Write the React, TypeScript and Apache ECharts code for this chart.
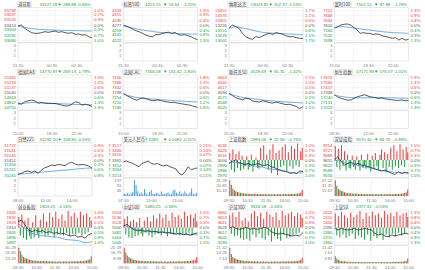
import { useEffect, useRef } from "react";
import * as echarts from "echarts";

const RED = "#ee3b3b";
const GREEN = "#1a9a3c";
const BLUE = "#4b9be0";
const LINE = "#2e2e2e";
const GRIDC = "#ececec";
const BORDER = "#d0d0d0";
const MUTED = "#808080";
const MIDC = "#555555";

// ---------- titles ----------
const names = ["道琼斯", "标普500", "纳斯达克", "富时100", "德国DAX", "法国CAC", "斯托克50", "恒生指数", "日经225", "美元人民币", "上证指数", "深证成指", "创业板指", "中证500", "沪深300", "上证50"];
const lastPrices = ["33127.28", "4223.15", "13023.81", "7502.12", "14770.87", "7166.58", "4528.69", "17171.93", "31292.20", "7.3283", "2983.06", "9570.30", "1903.25", "5480.25", "3616.58", "2377.32"];
const changes = ["288.88", "53.64", "202.37", "97.88", "269.13", "131.42", "65.31", "176.07", "158.80", "0.0082", "22.94", "84.73", "", "", "", ""];
const changePcts = ["-0.86%", "-1.25%", "-1.53%", "-1.29%", "-1.79%", "-1.80%", "-1.42%", "-1.01%", "-0.50%", "-0.11%", "-0.76%", "-0.88%", "-0.56%", "-0.36%", "-0.34%", "-0.53%"];

// ---------- left tick labels (top -> bottom, middle = previous close) ----------
const djTicks = [33748, 33637, 33526, 33414, 33303, 33191, 33080];
const spTicks = [4333, 4315, 4296, 4277, 4259, 4241, 4222];
const nqTicks = [13451, 13376, 13301, 13226, 13151, 13076, 13001];
const ftTicks = [7702, 7668, 7634, 7600, 7566, 7532, 7498];
const daxTicks = [15330, 15233, 15137, 15040, 14943, 14847, 14750];
const cacTicks = [7430, 7386, 7342, 7298, 7254, 7210, 7166];
const sxTicks = [4663, 4640, 4617, 4594, 4571, 4548, 4525];
const hsTicks = [17674, 17566, 17457, 17348, 17240, 17131, 17023];
const nkTicks = [31737, 31641, 31546, 31451, 31356, 31261, 31165];
const cnyTicks = [7.3517, 7.3466, 7.3416, 7.3365, 7.3314, 7.3264, 7.3213];
const shTicks = [3036, 3026, 3016, 3006, 2996, 2986, 2976];
const szTicks = [9754, 9721, 9688, 9655, 9622, 9589, 9556];
const cybTicks = [1941, 1932, 1923, 1914, 1905, 1896, 1887];
const zzTicks = [5554, 5536, 5518, 5500, 5482, 5464, 5446];
const hs300Ticks = [3665, 3653, 3641, 3629, 3617, 3605, 3593];
const sz50Ticks = [2420, 2410, 2400, 2390, 2380, 2370, 2360];

// ---------- price lines ----------
const djLine = [33392, 33414, 33340, 33288, 33243, 33229, 33229, 33243, 33266, 33251, 33266, 33280, 33251, 33266, 33243, 33229, 33243, 33206, 33214, 33191, 33199, 33154, 33127];
const djAvg = [33392, 33360, 33335, 33320, 33310, 33303, 33298, 33293, 33290, 33286, 33282, 33280];
const spLine = [4277, 4273, 4268, 4261, 4256, 4252, 4246, 4240, 4236, 4234, 4242, 4242, 4246, 4249, 4251, 4246, 4250, 4242, 4240, 4242, 4238, 4234, 4228, 4223];
const spAvg = [4273, 4268, 4263, 4258, 4255, 4251, 4249, 4248, 4246, 4245, 4244, 4244];
const nqLine = [13176, 13226, 13201, 13176, 13101, 13051, 13026, 13011, 13051, 13036, 13061, 13086, 13101, 13086, 13111, 13101, 13086, 13061, 13051, 13051, 13036, 13026, 13024];
const nqAvg = [13176, 13201, 13181, 13161, 13136, 13116, 13106, 13101, 13096, 13091, 13086, 13081];
const ftLine = [7577, 7589, 7600, 7605, 7607, 7600, 7584, 7566, 7543, 7548, 7543, 7543, 7536, 7539, 7536, 7525, 7521, 7516, 7509, 7514, 7498, 7509, 7498, 7502];
const ftAvg = [7584, 7589, 7584, 7577, 7570, 7564, 7557, 7552, 7548, 7546, 7543];
const daxLine = [14834, 14814, 14859, 14879, 14892, 14879, 14834, 14847, 14834, 14827, 14827, 14827, 14814, 14795, 14782, 14782, 14814, 14859, 14847, 14795, 14814, 14795, 14771];
const daxAvg = [14814, 14834, 14847, 14840, 14834, 14827, 14821, 14814, 14808, 14808, 14801];
const cacLine = [7290, 7270, 7255, 7240, 7230, 7245, 7250, 7240, 7230, 7225, 7232, 7228, 7220, 7215, 7210, 7212, 7205, 7200, 7195, 7190, 7185, 7175, 7167];
const cacAvg = [7285, 7265, 7252, 7245, 7240, 7235, 7230, 7226, 7222, 7218, 7215];
const sxLine = [4590, 4580, 4570, 4565, 4560, 4568, 4565, 4555, 4552, 4550, 4556, 4552, 4548, 4545, 4550, 4546, 4542, 4538, 4540, 4535, 4530, 4520, 4529];
const sxAvg = [4588, 4578, 4570, 4566, 4562, 4558, 4555, 4552, 4550, 4548, 4546];
const hsLine = [17300, 17250, 17220, 17200, 17180, 17190, 17230, 17260, 17280, 17300, 17270, 17250, 17240, 17220, 17230, 17210, 17200, 17190, 17180, 17175, 17185, 17170, 17172];
const hsAvg = [17290, 17260, 17240, 17230, 17232, 17236, 17238, 17235, 17230, 17225, 17220];
const nkLine = [31178, 31197, 31229, 31241, 31216, 31241, 31197, 31261, 31305, 31324, 31356, 31343, 31368, 31356, 31343, 31388, 31407, 31375, 31356, 31368, 31356, 31337, 31292];
const nkAvg = [31178, 31191, 31203, 31216, 31229, 31241, 31254, 31267, 31280, 31292, 31299];
const cnyLine = [7.3348, 7.3355, 7.3341, 7.3331, 7.3314, 7.3297, 7.3331, 7.3341, 7.3355, 7.3331, 7.3321, 7.3331, 7.3314, 7.3304, 7.3314, 7.3297, 7.3287, 7.3274, 7.3230, 7.3213, 7.3247, 7.3297, 7.3264, 7.328, 7.3283];
const shLine = [2999, 3003, 3006, 3001, 2999, 2997, 2999, 2996, 2997, 2999, 2996, 2995, 2997, 2993, 2991, 2988, 2986, 2984, 2983, 2979, 2981, 2979, 2984, 2983];
const shAvg = [3001, 3002, 3000, 2998, 2997, 2995, 2993, 2992, 2990, 2988, 2987, 2985, 2983, 2982, 2980, 2980, 2981];
const szLine = [9655, 9677, 9644, 9622, 9633, 9640, 9626, 9633, 9622, 9618, 9611, 9604, 9596, 9589, 9582, 9589, 9578, 9567, 9560, 9578, 9567, 9574, 9570];
const szAvg = [9650, 9655, 9645, 9635, 9630, 9628, 9622, 9615, 9610, 9605, 9600, 9595, 9590, 9585, 9580, 9578, 9575, 9572, 9568, 9570, 9565];
const cybLine = [1924.5, 1927.5, 1918.5, 1909.5, 1906.5, 1909.5, 1906.5, 1908.3, 1904.7, 1906.5, 1903.5, 1904.7, 1902.3, 1903.5, 1900.5, 1898.7, 1900.5, 1896.8, 1898, 1895, 1900.5, 1903.3];
const cybAvg = [1921.5, 1912.5, 1903.5, 1900.5, 1898.7, 1897.5, 1896.3, 1892.7, 1891.5, 1890.3, 1886.7, 1888.5];
const zzLine = [5505, 5512, 5500, 5492, 5488, 5490, 5486, 5488, 5484, 5486, 5482, 5484, 5480, 5482, 5478, 5476, 5479, 5474, 5476, 5472, 5478, 5480];
const zzAvg = [5508, 5500, 5494, 5490, 5487, 5485, 5483, 5480, 5478, 5476, 5475, 5474];
const hs300Line = [3627, 3631, 3627, 3624.6, 3627, 3629.4, 3624.6, 3627, 3624.6, 3627, 3629.4, 3627, 3619, 3615, 3613.4, 3615, 3612.6, 3611, 3608.6, 3611, 3608.6, 3616.6];
const sz50Line = [2388.3, 2385, 2388.3, 2386.3, 2385, 2386.3, 2388.3, 2385, 2386.3, 2388.3, 2386.3, 2385, 2378.3, 2375, 2377, 2373, 2371.7, 2375, 2373, 2375, 2376.3, 2378.3, 2377.3];

// ---------- red/green strength bars around previous close (percent of half height) ----------
const shBars = [40, -55, 60, -70, 35, -45, 50, -60, 25, -50, -35, 20, -55, -40, 30, -65, -30, 15, -45, -50, 70, -40, 85, -35, 30, -55, 60, -75, 90, -45, 40, -85, 55, -40, 75, -30, 90, -60, 45, -35, 80, -50, 65, -30, 95, -40, 50, 70];
const szBars = [80, -40, 65, -55, 85, -35, 50, -60, 30, -45, -50, 25, -40, -55, 20, -35, -60, 30, -45, -30, -50, 35, -40, -65, 25, -50, 40, -35, -55, 30, 60, -45, 45, -70, 35, -40, 70, -55, 85, -35, 50, -45, 90, -30, 60, -40, 75, 45];
const cybBars = [60, -45, 75, -60, 40, -70, 55, -50, -65, 30, -55, 70, -40, -60, 45, -35, 80, -50, 35, -45, 85, -30, 60, -55, 90, -40, 50, -35, 75, -45, 40, -30, 95, -50, 65, -35, 85, -40, 55, -30, 90, -45, 70, -35, 80, -25, 60, 40];
const zzBars = [50, -40, 65, -55, 35, -60, 45, -50, 30, -45, 55, -35, -50, 40, -30, 60, -45, 35, -55, 70, -40, 50, -35, 80, -45, 55, -30, 75, -50, 40, -35, 85, -40, 60, -30, 70, -45, 50, -35, 90, -40, 65, -30, 75, -45, 55, 80, 35];
const hs300Bars = [70, -35, 85, -50, 60, -45, 90, -60, 40, -70, 55, -65, 35, -75, 80, -40, 95, -55, 65, -35, 85, -60, 50, -70, 90, -45, 75, -80, 60, -50, 85, -65, 45, -75, 95, -40, 70, -60, 80, -55, 90, -45, 65, -35, 85, -30, 75, 55];
const sz50Bars = [80, -45, 65, -55, 90, -40, 70, -60, 55, -50, 85, -35, 60, -65, 75, -45, 95, -55, 50, -70, 85, -40, 65, -75, 90, -50, 70, -60, 80, -45, 55, -70, 95, -40, 75, -55, 85, -35, 65, -50, 90, -30, 70, -45, 80, -35, 85, 60];

// ---------- volumes (percent of top label; sign = up/down bar colour) ----------
const shVol = [100, -72, 48, -36, 30, -26, 22, -20, 18, -17, 16, -15, 14, -15, 13, -12, 14, -13, 12, -11, 13, -12, 11, -12, 10, -11, 12, -10, 11, -12, 10, -11, 12, -11, 10, -12, 13, -11, 12, -13, 14, -12, 13, -15, 16, -18, 22, 38];
const szVol = [100, -65, 45, -38, 32, -28, 24, -21, 19, -18, 17, -16, 15, -14, 16, -13, 14, -12, 13, -12, 12, -11, 13, -11, 12, -10, 11, -12, 10, -11, 12, -10, 11, -12, 11, -13, 12, -11, 13, -12, 14, -13, 15, -14, 17, -19, 24, 42];
const cybVol = [100, -80, 55, -42, 35, -30, 26, -22, 20, -18, 17, -16, 15, -14, 15, -13, 14, -12, 13, -12, 12, -11, 12, -10, 11, -10, 12, -11, 10, -11, 12, -10, 11, -10, 12, -11, 13, -12, 12, -13, 14, -13, 15, -16, 18, -20, 26, 45];
const zzVol = [100, -70, 50, -40, 32, -27, 23, -20, 18, -17, 16, -15, 14, -13, 14, -12, 13, -12, 12, -11, 12, -11, 11, -10, 12, -10, 11, -11, 10, -12, 11, -10, 12, -11, 11, -12, 12, -11, 13, -12, 13, -14, 15, -16, 17, -19, 24, 40];
const hs300Vol = [100, -60, 40, -32, 28, -24, 21, -19, 17, -16, 15, -14, 14, -13, 12, -12, 13, -11, 12, -11, 11, -10, 12, -10, 11, -10, 10, -11, 10, -11, 11, -10, 11, -10, 12, -11, 11, -12, 12, -11, 13, -12, 13, -14, 15, -17, 22, 35];
const sz50Vol = [45, -30, 22, -18, 15, -13, 12, -11, 10, -9, 9, -8, 9, -8, 8, -8, 9, -7, 8, -8, 7, -7, 8, -7, 8, -7, 7, -8, 7, -7, 8, -7, 7, -8, 8, -7, 8, -8, 9, -8, 9, -9, 10, -10, 11, -12, 15, 30];
const cnyVol = [15, 12, 20, 10, 18, 25, 100, 70, 30, 15, 22, 12, 45, 18, 10, 25, 38, 14, 12, 20, 16, 10, 28, 15, 12, 18, 22, 10, 14, 35, 40, 20, 15, 28, 12, 18, 30, 14, 10, 22, 48, 15, 12, 20];

// ---------- volume axis labels ----------
const intlVolLabels = ["3", "2", "1"];
const cnyVolLabels = ["137", "91", "46"];
const shVolLabels = ["31.28", "20.85", "10.43"];
const szVolLabels = ["47.02", "31.35", "15.67"];
const cybVolLabels = ["40.28", "26.85", "13.43"];
const zzVolLabels = ["25.18", "16.79", "8.39"];
const hs300VolLabels = ["21.42", "14.28", "7.14"];
const sz50VolLabels = ["11.42", "7.61", "3.81"];

// ---------- time axis labels (positions on a 0-240 session scale) ----------
const usTimes = ["21:30", "00:30", "02:30"];
const euTimes = ["15:00", "18:30", "22:00"];
const hkTimes = ["09:30", "12:00", "15:00"];
const asTimes = ["08:00", "11:00", "14:00"];
const cnyTimes = ["07:30", "13:00", "21:00"];
const aTimes = ["09:30", "10:30", "11:30", "14:00", "15:00"];
const intlTimePos = [0, 110, 190];
const asTimePos = [0, 90, 175];
const aTimePos = [0, 60, 120, 180, 240];

type P = {
  ticks: number[]; dec: number; pdec: number; line: number[]; avg?: number[];
  bars?: number[]; vol?: number[]; volBlue?: boolean; volLabels: string[];
  times: string[]; timePos: number[];
};

const panels: P[] = [
  { ticks: djTicks, dec: 0, pdec: 1, line: djLine, avg: djAvg, volLabels: intlVolLabels, times: usTimes, timePos: intlTimePos },
  { ticks: spTicks, dec: 0, pdec: 1, line: spLine, avg: spAvg, volLabels: intlVolLabels, times: usTimes, timePos: intlTimePos },
  { ticks: nqTicks, dec: 0, pdec: 1, line: nqLine, avg: nqAvg, volLabels: intlVolLabels, times: usTimes, timePos: intlTimePos },
  { ticks: ftTicks, dec: 0, pdec: 1, line: ftLine, avg: ftAvg, volLabels: intlVolLabels, times: euTimes, timePos: intlTimePos },
  { ticks: daxTicks, dec: 0, pdec: 1, line: daxLine, avg: daxAvg, volLabels: intlVolLabels, times: euTimes, timePos: intlTimePos },
  { ticks: cacTicks, dec: 0, pdec: 1, line: cacLine, avg: cacAvg, volLabels: intlVolLabels, times: euTimes, timePos: intlTimePos },
  { ticks: sxTicks, dec: 0, pdec: 1, line: sxLine, avg: sxAvg, volLabels: intlVolLabels, times: euTimes, timePos: intlTimePos },
  { ticks: hsTicks, dec: 0, pdec: 1, line: hsLine, avg: hsAvg, volLabels: intlVolLabels, times: hkTimes, timePos: intlTimePos },
  { ticks: nkTicks, dec: 0, pdec: 1, line: nkLine, avg: nkAvg, volLabels: intlVolLabels, times: asTimes, timePos: asTimePos },
  { ticks: cnyTicks, dec: 4, pdec: 2, line: cnyLine, vol: cnyVol, volBlue: true, volLabels: cnyVolLabels, times: cnyTimes, timePos: asTimePos },
  { ticks: shTicks, dec: 0, pdec: 1, line: shLine, avg: shAvg, bars: shBars, vol: shVol, volLabels: shVolLabels, times: aTimes, timePos: aTimePos },
  { ticks: szTicks, dec: 0, pdec: 1, line: szLine, avg: szAvg, bars: szBars, vol: szVol, volLabels: szVolLabels, times: aTimes, timePos: aTimePos },
  { ticks: cybTicks, dec: 0, pdec: 1, line: cybLine, avg: cybAvg, bars: cybBars, vol: cybVol, volLabels: cybVolLabels, times: aTimes, timePos: aTimePos },
  { ticks: zzTicks, dec: 0, pdec: 1, line: zzLine, avg: zzAvg, bars: zzBars, vol: zzVol, volLabels: zzVolLabels, times: aTimes, timePos: aTimePos },
  { ticks: hs300Ticks, dec: 0, pdec: 1, line: hs300Line, bars: hs300Bars, vol: hs300Vol, volLabels: hs300VolLabels, times: aTimes, timePos: aTimePos },
  { ticks: sz50Ticks, dec: 0, pdec: 1, line: sz50Line, bars: sz50Bars, vol: sz50Vol, volLabels: sz50VolLabels, times: aTimes, timePos: aTimePos },
];

const COLS = [0, 105.5, 211, 316.5];
const ROWS = [0, 67.5, 135, 202.5];
const PL = 18, PW = 74, PT = 7.5, PH = 35, VT = 43, VH = 18;
const FS = 4.3;
const FONT = "'Liberation Sans', 'Noto Sans CJK SC', sans-serif";

function buildOption() {
  const grid: any[] = [], xAxis: any[] = [], yAxis: any[] = [], series: any[] = [], graphic: any[] = [];
  panels.forEach((p, i) => {
    const ox = COLS[i % 4], oy = ROWS[Math.floor(i / 4)];
    const gi = grid.length;
    grid.push({ left: ox + PL, top: oy + PT, width: PW, height: PH, show: true, borderColor: BORDER, borderWidth: 0.5 });
    grid.push({ left: ox + PL, top: oy + VT, width: PW, height: VH, show: true, borderColor: BORDER, borderWidth: 0.5 });
    const xi = xAxis.length;
    const xBase = { type: "value", min: 0, max: 240, interval: 60, axisLine: { show: false }, axisTick: { show: false }, splitLine: { show: true, lineStyle: { color: GRIDC, width: 0.5 } } };
    xAxis.push({ ...xBase, gridIndex: gi, axisLabel: { show: false } });
    xAxis.push({
      ...xBase, gridIndex: gi + 1,
      axisLabel: {
        show: true, customValues: p.timePos, fontSize: FS, color: MUTED, margin: 2.5, fontFamily: FONT,
        formatter: (v: number) => { const k = p.timePos.indexOf(Number(v)); return k >= 0 ? p.times[k] : ""; },
      },
    });
    const T = p.ticks;
    const mid = T[3];
    const step = (T[0] - T[6]) / 6;
    const min = T[6] - step * 0.5, max = T[0] + step * 0.5;
    const col = (v: any) => { const n = Number(v); return Math.abs(n - mid) < step * 0.1 ? MIDC : n > mid ? RED : GREEN; };
    const yi = yAxis.length;
    yAxis.push({
      gridIndex: gi, type: "value", position: "left", min, max,
      axisLine: { show: false }, axisTick: { show: false, customValues: T },
      splitLine: { show: true, lineStyle: { color: GRIDC, width: 0.5 } },
      axisLabel: { customValues: T, fontSize: FS, margin: 2, color: col, fontFamily: FONT, formatter: (v: number) => Number(v).toFixed(p.dec) },
    });
    yAxis.push({
      gridIndex: gi, type: "value", position: "right", min, max,
      axisLine: { show: false }, axisTick: { show: false }, splitLine: { show: false },
      axisLabel: { customValues: T, fontSize: FS, margin: 2, color: col, fontFamily: FONT, formatter: (v: number) => (Math.abs(Number(v) - mid) / mid * 100).toFixed(p.pdec) + "%" },
    });
    yAxis.push({ gridIndex: gi, type: "value", min: -100, max: 100, show: false, splitLine: { show: false } });
    const VL = p.volLabels;
    yAxis.push({
      gridIndex: gi + 1, type: "value", position: "left", min: 0, max: 115,
      axisLine: { show: false }, axisTick: { show: false }, splitLine: { show: false },
      axisLabel: {
        customValues: [100, 200 / 3, 100 / 3], fontSize: FS, margin: 2, color: MUTED, fontFamily: FONT,
        formatter: (v: number) => (Number(v) > 90 ? VL[0] : Number(v) > 50 ? VL[1] : VL[2]),
      },
    });
    if (p.bars) {
      const n = p.bars.length;
      series.push({
        type: "bar", xAxisIndex: xi, yAxisIndex: yi + 2, barWidth: 0.5,
        data: p.bars.map((v, k) => [(k + 0.5) * 240 / n, v]),
        itemStyle: { color: (pr: any) => (pr.value[1] >= 0 ? RED : GREEN) },
      });
    }
    if (p.vol) {
      const n = p.vol.length;
      series.push({
        type: "bar", xAxisIndex: xi + 1, yAxisIndex: yi + 3, barWidth: p.volBlue ? 0.9 : 0.8,
        data: p.vol.map((v, k) => ({ value: [(k + 0.5) * 240 / n, Math.abs(v)], up: v >= 0 })),
        itemStyle: { color: (pr: any) => (p.volBlue ? BLUE : pr.data.up ? RED : GREEN) },
      });
    }
    if (p.avg) {
      const n = p.avg.length;
      series.push({
        type: "line", xAxisIndex: xi, yAxisIndex: yi, showSymbol: false, smooth: 0.3,
        data: p.avg.map((v, k) => [k * 240 / (n - 1), v]),
        lineStyle: { color: BLUE, width: 0.8 },
      });
    }
    const n = p.line.length;
    series.push({
      type: "line", xAxisIndex: xi, yAxisIndex: yi, showSymbol: false,
      data: p.line.map((v, k) => [k * 240 / (n - 1), v]),
      lineStyle: { color: LINE, width: 0.8 },
    });
    // title row
    const ty = oy + 4.3;
    graphic.push({ type: "text", x: ox + 17, y: ty, style: { text: names[i], fill: "#333", font: `${FS}px 'Noto Sans CJK SC'`, verticalAlign: "middle", borderColor: "#bbb", borderWidth: 0.4, borderRadius: 1, padding: [0.3, 1] } });
    graphic.push({ type: "text", x: ox + 39.5, y: ty, style: { text: lastPrices[i], fill: GREEN, font: `${FS}px ${FONT}`, verticalAlign: "middle" } });
    if (changes[i]) {
      graphic.push({ type: "text", x: ox + 57.5, y: ty, style: { text: "▼ " + changes[i], fill: GREEN, font: `${FS}px ${FONT}`, verticalAlign: "middle" } });
      graphic.push({ type: "text", x: ox + 77, y: ty, style: { text: changePcts[i], fill: GREEN, font: `${FS}px ${FONT}`, verticalAlign: "middle" } });
    } else {
      graphic.push({ type: "text", x: ox + 58, y: ty, style: { text: changePcts[i], fill: GREEN, font: `${FS}px ${FONT}`, verticalAlign: "middle" } });
    }
  });
  return { animation: false, backgroundColor: "#fff", textStyle: { fontFamily: FONT }, grid, xAxis, yAxis, series, graphic };
}

export default function App() {
  const ref = useRef<HTMLDivElement>(null);
  useEffect(() => {
    const chart = echarts.init(ref.current!, null, { renderer: "svg" });
    chart.setOption(buildOption() as any);
    return () => chart.dispose();
  }, []);
  return <div ref={ref} style={{ position: "fixed", left: 0, top: 0, width: 425, height: 270, background: "#fff" }} />;
}
